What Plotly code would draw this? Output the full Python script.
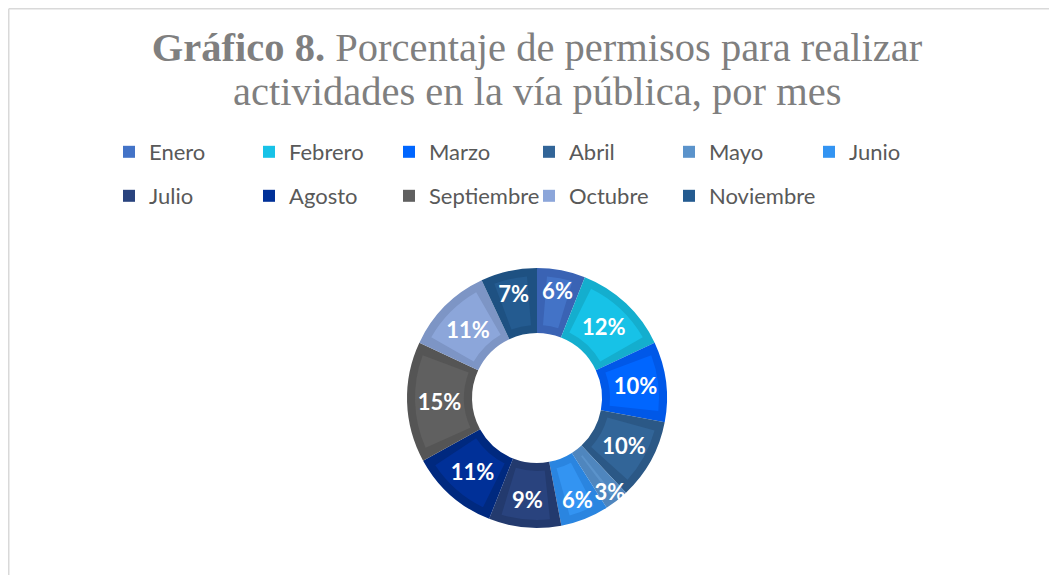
import math
import plotly.graph_objects as go

# ---- data ----
months = ["Enero", "Febrero", "Marzo", "Abril", "Mayo", "Junio",
          "Julio", "Agosto", "Septiembre", "Octubre", "Noviembre"]
values = [6, 12, 10, 10, 3, 6, 9, 11, 15, 11, 7]
# inner (lighter) face colour and outer bevel band colour of each slice
face_colors = ["#4373C7", "#17C2E7", "#0066FF", "#326598", "#5B93CB", "#3394F2",
               "#29437E", "#003098", "#606060", "#8CA6DA", "#245B90"]
band_colors = ["#3A63B4", "#14AECE", "#0058E8", "#2B5886", "#4F86BE", "#2A85E0",
               "#233A6E", "#00297F", "#555555", "#7D95C5", "#1E5182"]

title_line1 = "<b>Gráfico 8.</b> Porcentaje de permisos para realizar"
title_line2 = "actividades en la vía pública, por mes"

W, H = 1049, 567          # page body adds an 8px margin
total = sum(values)
per_row = 6               # legend entries per row

def pct(v):
    return f"{v / total * 100:.0f}%"

# pie geometry (figure pixels)
cx, cy, R, r_hole = 529, 390, 130, 65
bevel = 8

def domain(radius):
    return dict(x=[(cx - radius) / W, (cx + radius) / W],
                y=[1 - (cy + radius) / H, 1 - (cy - radius) / H])

# legend grid (figure pixels)
leg_x0, leg_dx = 101, 140
leg_y0, leg_dy = 123, 44

fig = go.Figure()

# 1) outer bevel band of every slice
fig.add_trace(go.Pie(
    labels=months, values=values,
    marker=dict(colors=band_colors, line=dict(width=0)),
    hole=r_hole / R, sort=False, direction="clockwise", rotation=0,
    domain=domain(R), textinfo="none", hoverinfo="skip", showlegend=False,
))

# 2) lighter face of each slice, inset from its edges (one trace per
#    month so that every legend entry can be placed in the grid)
R_in = R - bevel
d_val = total * (bevel / ((R + r_hole) / 2)) / (2 * math.pi)
layout_legends = {}
cum = 0
for i, (m, v, c) in enumerate(zip(months, values, face_colors)):
    lname = "legend" if i == 0 else f"legend{i + 1}"
    fig.add_trace(go.Pie(
        labels=[m, " " * (i + 1)],
        values=[v - 2 * d_val, total - v + 2 * d_val],
        marker=dict(colors=[c, "rgba(0,0,0,0)"], line=dict(width=0)),
        rotation=360 * (cum + d_val) / total,
        hole=(r_hole + bevel) / R_in, sort=False, direction="clockwise",
        domain=domain(R_in), textinfo="none", hoverinfo="skip",
        legend=lname,
    ))
    cum += v
    col, row = i % per_row, i // per_row
    layout_legends[lname] = dict(
        orientation="h", xanchor="left", yanchor="top",
        x=(leg_x0 + col * leg_dx) / W, y=1 - (leg_y0 + row * leg_dy) / H,
        font=dict(family="Lato", size=22, color="#595959"),
        itemwidth=30, bgcolor="rgba(0,0,0,0)",
    )

# 3) percentage labels
fig.add_trace(go.Pie(
    labels=months, values=values,
    text=[pct(v) for v in values],
    marker=dict(colors=["rgba(0,0,0,0)"] * len(months), line=dict(width=0)),
    hole=r_hole / R, sort=False, direction="clockwise", rotation=0,
    domain=domain(R),
    textinfo="text", textposition="inside",
    insidetextorientation="horizontal",
    textfont=dict(family="Lato", size=22, color="white", weight="bold"),
    hoverinfo="label+text", showlegend=False,
))

fig.update_layout(
    width=W, height=H,
    margin=dict(l=0, r=0, t=0, b=0),
    paper_bgcolor="white", plot_bgcolor="white",
    title=dict(
        text=title_line1,
        x=529 / W, xanchor="center", xref="paper",
        y=1 - 39 / H, yanchor="middle", yref="container",
        font=dict(family="Liberation Serif", size=40.5, color="#7F7F7F"),
    ),
    annotations=[dict(
        text=title_line2, showarrow=False,
        x=529 / W, xanchor="center", xref="paper",
        y=1 - 83 / H, yanchor="middle", yref="paper",
        font=dict(family="Liberation Serif", size=40.5, color="#7F7F7F"),
    )],
    uniformtext=dict(minsize=22, mode="show"),
    shapes=[
        dict(type="line", xref="paper", yref="paper",
             x0=0.75 / W, x1=1, y0=1 - 0.75 / H, y1=1 - 0.75 / H,
             line=dict(color="#D9D9D9", width=1.5)),
        dict(type="line", xref="paper", yref="paper",
             x0=0.75 / W, x1=0.75 / W, y0=0, y1=1 - 0.75 / H,
             line=dict(color="#D9D9D9", width=1.5)),
    ],
    **layout_legends,
)

fig.write_html("out.html")
